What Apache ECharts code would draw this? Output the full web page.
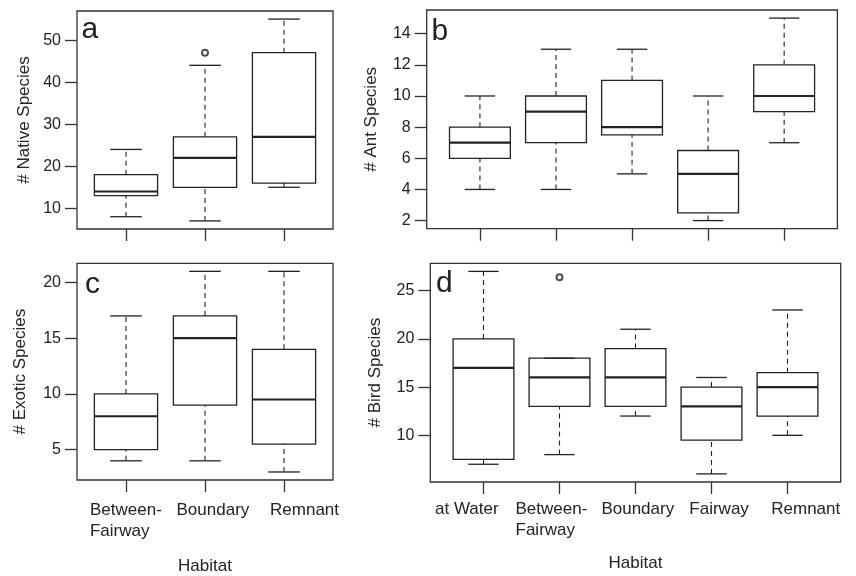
<!DOCTYPE html>
<html><head><meta charset="utf-8">
<script src="https://cdn.jsdelivr.net/npm/echarts@6/dist/echarts.min.js"></script>
<style>html,body{margin:0;padding:0;background:#fff}#c{width:856px;height:576px}</style>
</head><body><div id="c"></div>
<script>
// ---------- Data ----------
// Panel a: # Native Species
const catsA = ['Between-\nFairway', 'Boundary', 'Remnant'];
const lowA  = [8, 7, 15];
const q1A   = [13, 15, 16];
const medA  = [14, 22, 27];
const q3A   = [18, 27, 47];
const highA = [24, 44, 55];
const outA  = [[2, 47]];
const ticksA = [10, 20, 30, 40, 50];

// Panel b: # Ant Species
const catsB = ['at Water', 'Between-\nFairway', 'Boundary', 'Fairway', 'Remnant'];
const lowB  = [4, 4, 5, 2, 7];
const q1B   = [6, 7, 7.5, 2.5, 9];
const medB  = [7, 9, 8, 5, 10];
const q3B   = [8, 10, 11, 6.5, 12];
const highB = [10, 13, 13, 10, 15];
const outB  = [];
const ticksB = [2, 4, 6, 8, 10, 12, 14];

// Panel c: # Exotic Species
const catsC = ['Between-\nFairway', 'Boundary', 'Remnant'];
const lowC  = [4, 4, 3];
const q1C   = [5, 9, 5.5];
const medC  = [8, 15, 9.5];
const q3C   = [10, 17, 14];
const highC = [17, 21, 21];
const outC  = [];
const ticksC = [5, 10, 15, 20];

// Panel d: # Bird Species
const catsD = ['at Water', 'Between-\nFairway', 'Boundary', 'Fairway', 'Remnant'];
const lowD  = [7, 8, 12, 6, 10];
const q1D   = [7.5, 13, 13, 9.5, 12];
const medD  = [17, 16, 16, 13, 15];
const q3D   = [20, 18, 19, 15, 16.5];
const highD = [27, 18, 21, 16, 23];
const outD  = [[2, 26.4]];
const ticksD = [10, 15, 20, 25];

// ---------- Layout (positions / styles) ----------
const labelPosC = [1, 2.1, 3.26];
const labelPosD = [0.78, 1.895, 3.03, 4.1, 5.24];

const FONT = '"Liberation Sans", Arial, Helvetica, sans-serif';
const INK = '#222';
const FRAME = '#333';

const panels = [
  {letter:'a', cats:catsA, low:lowA, q1:q1A, med:medA, q3:q3A, high:highA, out:outA, ticks:ticksA,
   yname:'# Native Species', yGap:44.5, grid:{left:77, top:11, width:256, height:218}, showX:false,
   letterPos:{left:81.5, top:15}},
  {letter:'b', cats:catsB, low:lowB, q1:q1B, med:medB, q3:q3B, high:highB, out:outB, ticks:ticksB,
   yname:'# Ant Species', yGap:46.5, grid:{left:426.7, top:10, width:410.7, height:218.7}, showX:false,
   letterPos:{left:431.5, top:16.5}},
  {letter:'c', cats:catsC, low:lowC, q1:q1C, med:medC, q3:q3C, high:highC, out:outC, ticks:ticksC,
   yname:'# Exotic Species', yGap:48, grid:{left:77, top:263.3, width:256, height:218.7}, showX:true,
   labelPos:labelPosC, labelMargin:20, nameGap:78, letterPos:{left:85, top:270}},
  {letter:'d', cats:catsD, low:lowD, q1:q1D, med:medD, q3:q3D, high:highD, out:outD, ticks:ticksD,
   yname:'# Bird Species', yGap:46.5, grid:{left:430.3, top:263.3, width:410.4, height:218.7}, showX:true,
   labelPos:labelPosD, labelMargin:16.5, nameGap:73, letterPos:{left:436, top:269}}
];

function renderBox(params, api) {
  const x = api.value(0), lo = api.value(1), q1 = api.value(2),
        md = api.value(3), q3 = api.value(4), hi = api.value(5);
  const hw = 0.4, cw = 0.2;
  const p = (a, b) => api.coord([a, b]);
  const solid = {stroke: INK, lineWidth: 1.3};
  const dash = {stroke: INK, lineWidth: 1.1, lineDash: [5, 4]};
  const line = (a, b, style) => ({type: 'line', shape: {x1: a[0], y1: a[1], x2: b[0], y2: b[1]}, style: style});
  const ch = [];
  if (hi > q3) ch.push(line(p(x, q3), p(x, hi), dash));
  if (lo < q1) ch.push(line(p(x, lo), p(x, q1), dash));
  ch.push(line(p(x - cw, hi), p(x + cw, hi), solid));
  ch.push(line(p(x - cw, lo), p(x + cw, lo), solid));
  const tl = p(x - hw, q3), br = p(x + hw, q1);
  ch.push({type: 'rect', shape: {x: tl[0], y: tl[1], width: br[0] - tl[0], height: br[1] - tl[1]},
           style: {stroke: INK, lineWidth: 1.3, fill: 'none'}});
  ch.push(line(p(x - hw, md), p(x + hw, md), {stroke: INK, lineWidth: 2.2}));
  return {type: 'group', children: ch};
}

const option = {animation: false, backgroundColor: '#fff', title: [], grid: [], xAxis: [], yAxis: [], series: []};

panels.forEach((P, i) => {
  const n = P.cats.length;
  const all = P.low.concat(P.high, P.out.map(o => o[1]));
  const vmin = Math.min(...all), vmax = Math.max(...all);
  const pad = (vmax - vmin) * 0.04;
  option.title.push({text: P.letter, left: P.letterPos.left, top: P.letterPos.top, padding: 0,
    textStyle: {fontSize: 30, fontWeight: 'normal', fontFamily: FONT, color: INK}});
  option.grid.push(Object.assign({show: true, borderColor: FRAME, borderWidth: 1.3, backgroundColor: 'transparent'}, P.grid));
  const cats = P.cats;
  option.xAxis.push({
    type: 'value', gridIndex: i, min: 0.5 - n * 0.04, max: n + 0.5 + n * 0.04,
    axisLine: {show: false}, splitLine: {show: false},
    axisTick: {show: true, customValues: cats.map((c, k) => k + 1), length: 12, lineStyle: {color: FRAME, width: 1.3}},
    axisLabel: P.showX ? {
      show: true, customValues: P.labelPos, margin: P.labelMargin,
      fontSize: 17, lineHeight: 21, color: INK, fontFamily: FONT,
      formatter: function (v) {
        const s = cats[Math.round(v) - 1] || '';
        return s.indexOf('\n') >= 0 ? s.split('\n').map(t => '{m|' + t + '}').join('\n') : s;
      },
      rich: {m: {width: 72, align: 'left', fontSize: 17, lineHeight: 21, color: INK, fontFamily: FONT}}
    } : {show: false},
    name: P.showX ? 'Habitat' : '', nameLocation: 'middle', nameGap: P.nameGap || 0,
    nameTextStyle: {fontSize: 17, color: INK, fontFamily: FONT}
  });
  option.yAxis.push({
    type: 'value', gridIndex: i, min: vmin - pad, max: vmax + pad,
    axisLine: {show: false}, splitLine: {show: false},
    axisTick: {show: true, customValues: P.ticks, length: 12, lineStyle: {color: FRAME, width: 1.3}},
    axisLabel: {show: true, customValues: P.ticks, margin: 16, fontSize: 16, color: INK, fontFamily: FONT},
    name: P.yname, nameLocation: 'middle', nameGap: P.yGap,
    nameTextStyle: {fontSize: 17, color: INK, fontFamily: FONT}
  });
  const rows = cats.map((c, k) => [k + 1, P.low[k], P.q1[k], P.med[k], P.q3[k], P.high[k]]);
  option.series.push({type: 'custom', xAxisIndex: i, yAxisIndex: i, renderItem: renderBox,
    encode: {x: 0, y: [1, 2, 3, 4, 5]}, data: rows, silent: true});
  if (P.out.length) {
    option.series.push({type: 'scatter', xAxisIndex: i, yAxisIndex: i, data: P.out,
      symbol: 'emptyCircle', symbolSize: 6, itemStyle: {color: INK, borderColor: INK, borderWidth: 1.2}, silent: true});
  }
});

const chart = echarts.init(document.getElementById('c'), null, {renderer: 'canvas'});
chart.setOption(option);
</script>
</body></html>
